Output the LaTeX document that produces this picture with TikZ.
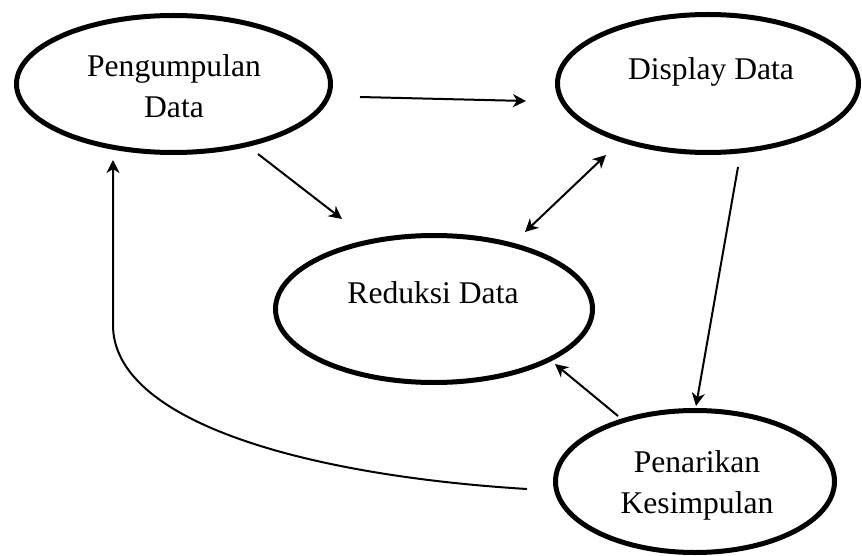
\documentclass[tikz,border=0pt]{standalone}
\usepackage{fontspec}
\setmainfont{Liberation Serif}
\usetikzlibrary{shapes.geometric,arrows.meta}
\begin{document}
\begin{tikzpicture}[x=1pt,y=-1pt,
  oval/.style={draw,ellipse,line width=5pt,inner sep=0pt,outer sep=0pt},
  lbl/.style={anchor=base,inner sep=0pt,font=\fontsize{31.6}{41}\selectfont},
  tip/.tip={Stealth[length=13pt,width=13pt,inset=4pt]},
  arr/.style={line width=2pt,-tip},
  darr/.style={line width=2pt,tip-tip}]
\useasboundingbox (0,0) rectangle (862,556);
% ellipses
\node[oval,minimum width=314pt,minimum height=137pt] (p) at (173.5,84) {};
\node[oval,minimum width=301pt,minimum height=138pt] (d) at (708,83.5) {};
\node[oval,minimum width=317pt,minimum height=147pt] (r) at (434,309) {};
\node[oval,minimum width=279pt,minimum height=142pt] (k) at (695,481.5) {};
% texts
\node[lbl] (p1) at (174,77) {Pengumpulan};
\node[lbl] (p2) at (174,118) {Data};
\node[lbl] (d1) at (711,80) {Display Data};
\node[lbl] (r1) at (433,303) {Reduksi Data};
\node[lbl] (k1) at (697,472) {Penarikan};
\node[lbl] (k2) at (697,513) {Kesimpulan};
% connector end points
\coordinate (a1s) at (360,97);   \coordinate (a1e) at (526,101);
\coordinate (a2s) at (258,154);  \coordinate (a2e) at (342,219);
\coordinate (a3s) at (525,232);  \coordinate (a3e) at (606,155);
\coordinate (a4s) at (738,167);  \coordinate (a4e) at (696,406);
\coordinate (a5s) at (618,416);  \coordinate (a5e) at (555,364);
\coordinate (a6s) at (527,489);  \coordinate (a6m) at (113,325);
\coordinate (a6e) at (113,160);
% connectors
\draw[arr] (a1s) -- (a1e);
\draw[arr] (a2s) -- (a2e);
\draw[darr] (a3s) -- (a3e);
\draw[arr] (a4s) -- (a4e);
\draw[arr] (a5s) -- (a5e);
\draw[arr] (a6s) .. controls (300,475) and (113,420) .. (a6m) -- (a6e);
\end{tikzpicture}
\end{document}
